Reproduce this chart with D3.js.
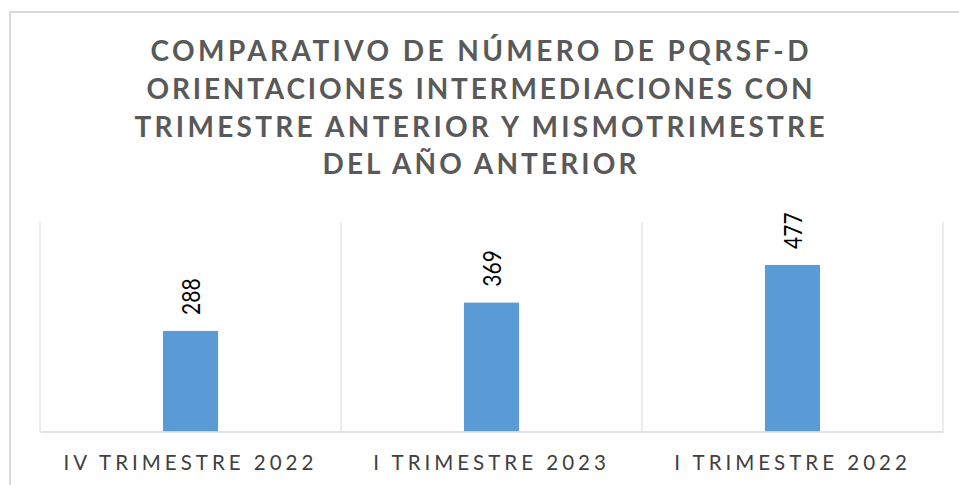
<!DOCTYPE html>
<html>
<head>
<meta charset="utf-8">
<script src="https://cdn.jsdelivr.net/npm/d3@7"></script>
<style>
  body { margin: 0; background: #fff; }
  svg { display: block; }
  .title { font-family: Lato, sans-serif; font-weight: bold; font-size: 28px; fill: #595959; }
  .x-axis text { font-family: Lato, sans-serif; font-size: 20.5px; fill: #404040; }
  .bar-label { font-family: Lato, sans-serif; font-size: 21px; fill: #000; }
</style>
</head>
<body>
<div id="chart"></div>
<script>
// chart data
const categories = ['IV TRIMESTRE 2022', 'I TRIMESTRE 2023', 'I TRIMESTRE 2022'];
const values = [288, 369, 477];
const titleLines = [
    'COMPARATIVO DE NÚMERO DE PQRSF-D',
    'ORIENTACIONES INTERMEDIACIONES CON',
    'TRIMESTRE ANTERIOR Y MISMOTRIMESTRE',
    'DEL AÑO ANTERIOR'
];
const yDomain = [0, 600];

const width = 959, height = 485;
const plot = {left: 40, right: 943, top: 222, bottom: 431.5};

const svg = d3.select('#chart')
    .append('svg')
    .attr('width', width)
    .attr('height', height);

// outer chart border (only top/left visible in the window)
svg.append('rect')
    .attr('x', 10)
    .attr('y', 12)
    .attr('width', width + 20)
    .attr('height', height + 20)
    .attr('fill', 'none')
    .attr('stroke', '#d9d9d9')
    .attr('stroke-width', 2);

// title, fitted to the original line widths
const titleWidths = [658, 666, 690, 314];
const titleBaselines = [61, 98.5, 137, 174];
svg.selectAll('.title')
    .data(titleLines)
    .enter().append('text')
    .attr('class', 'title')
    .attr('x', width / 2)
    .attr('y', (d, i) => titleBaselines[i])
    .attr('text-anchor', 'middle')
    .attr('textLength', (d, i) => titleWidths[i])
    .attr('lengthAdjust', 'spacing')
    .text(d => d);

const xScale = d3.scaleBand()
    .domain(categories)
    .range([plot.left, plot.right])
    .padding(0);

const yScale = d3.scaleLinear()
    .domain(yDomain)
    .range([plot.bottom, plot.top]);

// vertical category separators
const boundaries = categories.map(d => xScale(d)).concat([plot.right]);
svg.append('g')
    .attr('class', 'grid')
    .selectAll('line')
    .data(boundaries)
    .enter().append('line')
    .attr('x1', d => d)
    .attr('x2', d => d)
    .attr('y1', plot.top)
    .attr('y2', plot.bottom)
    .attr('stroke', '#d9d9d9')
    .attr('stroke-width', 1);

// bars
const barWidth = xScale.bandwidth() * 0.183;
svg.selectAll('.bar')
    .data(values)
    .enter().append('rect')
    .attr('class', 'bar')
    .attr('x', (d, i) => xScale(categories[i]) + (xScale.bandwidth() - barWidth) / 2)
    .attr('y', d => yScale(d))
    .attr('width', barWidth)
    .attr('height', d => yScale(0) - yScale(d))
    .attr('fill', '#5b9bd5');

// x axis
const xAxisG = svg.append('g')
    .attr('class', 'x-axis')
    .attr('transform', `translate(0,${plot.bottom})`)
    .call(d3.axisBottom(xScale).tickSize(0).tickPadding(0));

xAxisG.select('.domain')
    .attr('stroke', '#d9d9d9')
    .attr('stroke-width', 1.5);

xAxisG.selectAll('text')
    .attr('y', 38.5)
    .attr('dy', 0)
    .style('letter-spacing', '4px');

// rotated value labels
svg.selectAll('.bar-label')
    .data(values)
    .enter().append('text')
    .attr('class', 'bar-label')
    .attr('transform', (d, i) => `translate(${xScale(categories[i]) + xScale.bandwidth() / 2 + 9},${yScale(d) - 16}) rotate(-90) scale(1,1.2)`)
    .attr('text-anchor', 'start')
    .text(d => d);
</script>
</body>
</html>
